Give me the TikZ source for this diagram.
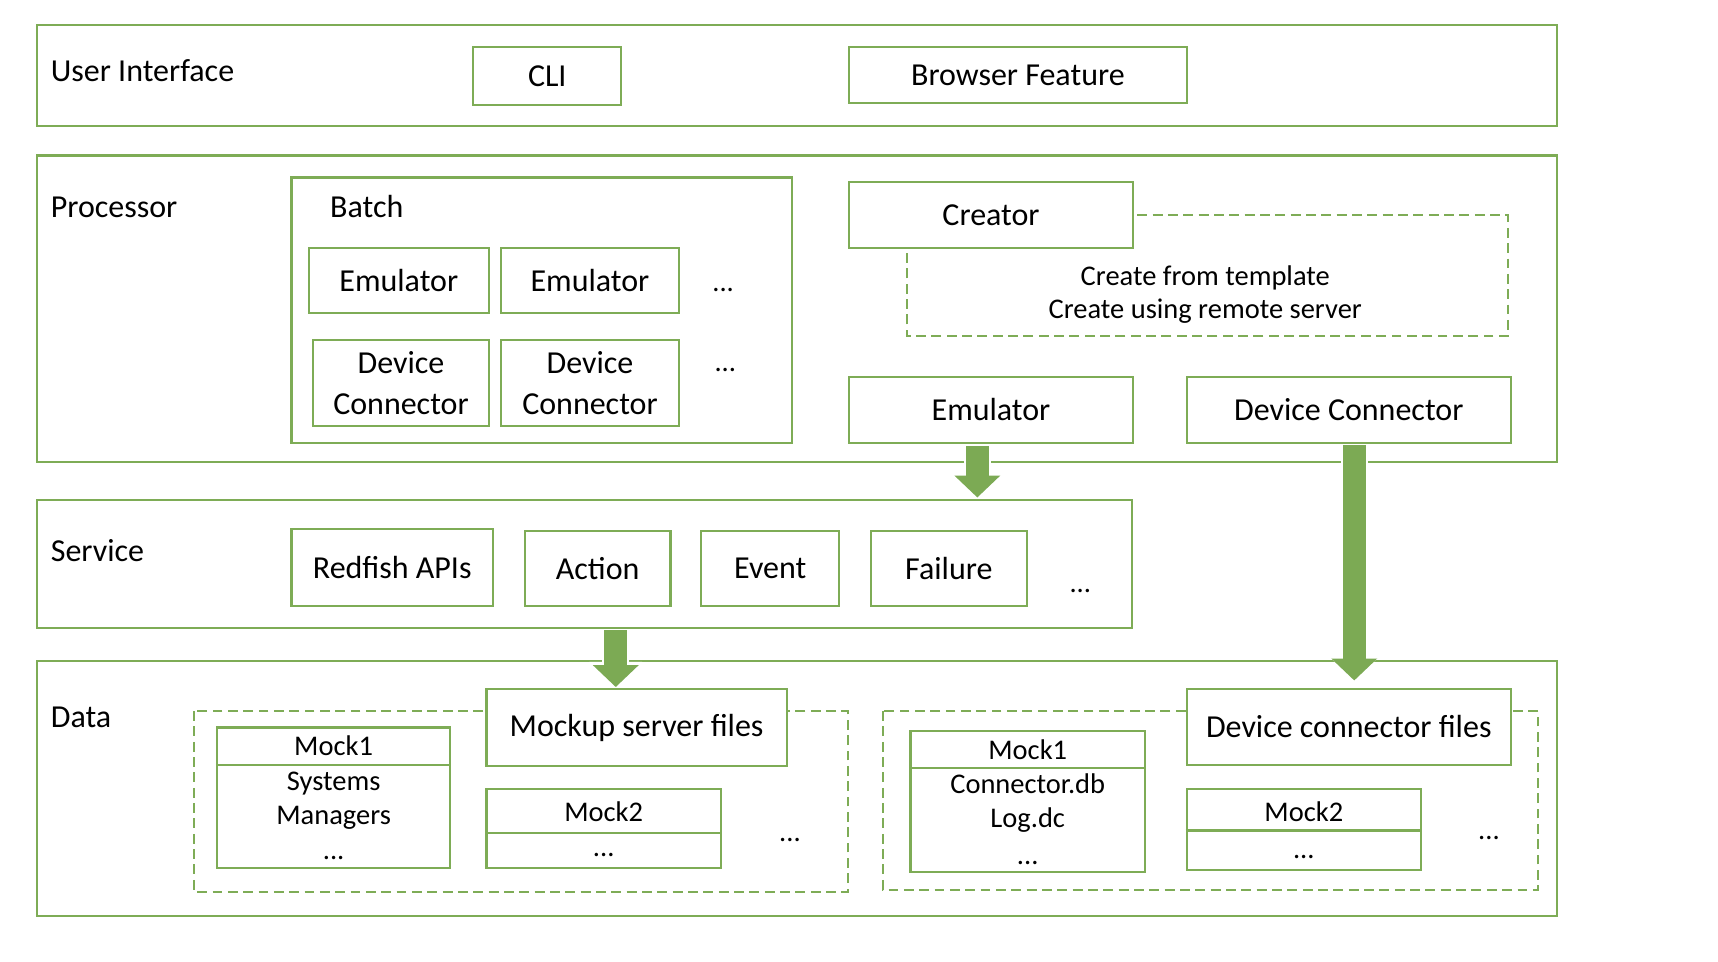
\documentclass[tikz,border=0pt]{standalone}
\usepackage{fontspec}
\setmainfont{Carlito}
\usetikzlibrary{arrows.meta}
\definecolor{gline}{RGB}{126,172,86}
\definecolor{garrow}{RGB}{124,170,84}
\begin{document}
\begin{tikzpicture}[x=0.5pt,y=-0.5pt,
  box/.style={draw=gline, line width=1pt, fill=white, inner sep=0pt, align=center,
    font=\fontsize{14.6}{18.5}\selectfont},
  outer/.style={draw=gline, line width=1pt, inner sep=0pt},
  dbox/.style={draw=gline, line width=1pt, dash pattern=on 4.5pt off 2.5pt},
  big/.style={inner sep=0pt, font=\fontsize{14.6}{18}\selectfont, text height=2ex, text depth=0.3ex},
  small/.style={inner sep=0pt, font=\fontsize{13}{16}\selectfont, text height=2ex, text depth=0.3ex},
  fat/.style={draw=garrow, line width=10.5pt,
    -{Triangle[width=21pt,length=10pt,line width=0pt]},
    preaction={draw=white, line width=12.5pt, -{Triangle[width=24pt,length=11.5pt,line width=0pt]}}}
]
\useasboundingbox (0,0) rectangle (1568,878);

% ---------- layers ----------
\node[outer, minimum width=693.5pt, minimum height=46pt] (ui) at (727.5,69) {};
\node[outer, minimum width=693.5pt, minimum height=140pt] (proc) at (727.5,282) {};
\node[outer, minimum width=499.5pt, minimum height=58.5pt] (svc) at (533.5,514.5) {};
\node[outer, minimum width=693.5pt, minimum height=116.5pt] (data) at (727.5,719.5) {};

\node[big, anchor=west] (uil) at (46,66) {User Interface};
\node[big, anchor=west] (procl) at (46,190) {Processor};
\node[big, anchor=west] (svcl) at (46,504) {Service};
\node[big, anchor=west] (datal) at (46,656) {Data};

% ---------- user interface ----------
\node[box, minimum width=67.5pt, minimum height=26.5pt] (cli) at (499.5,69.5) {CLI};
\node[box, minimum width=154pt, minimum height=25.5pt] (browser) at (929,68.5) {Browser Feature};

% ---------- processor ----------
\node[box, minimum width=228.5pt, minimum height=121pt] (batch) at (494.5,283) {};
\node[big, anchor=west] (batchl) at (301,190) {Batch};
\node[box, minimum width=82pt, minimum height=30pt] (be1) at (364,256) {Emulator};
\node[box, minimum width=81.5pt, minimum height=30pt] (be2) at (538.5,256) {Emulator};
\node[small] (bdots1) at (660,258) {...};
\node[box, minimum width=80pt, minimum height=39.5pt] (bd1) at (366,349.5) {Device\\Connector};
\node[box, minimum width=81.5pt, minimum height=39.5pt] (bd2) at (538.5,349.5) {Device\\Connector};
\node[small] (bdots2) at (662,331) {...};

\draw[dbox] (1038,196) -- (1376,196) -- (1376,307) -- (828,307) -- (828,229);
\node[box, minimum width=129.5pt, minimum height=30pt] (creator) at (904.5,196) {Creator};
\node[small] (ct1) at (1100,252) {Create from template};
\node[small] (ct2) at (1100,283) {Create using remote server};

\node[box, minimum width=129.5pt, minimum height=30pt] (emu) at (904.5,374) {Emulator};
\node[box, minimum width=148pt, minimum height=30pt] (dc) at (1231,374) {Device Connector};

% ---------- service ----------
\node[box, minimum width=92pt, minimum height=35pt] (redfish) at (358,518) {Redfish APIs};
\node[box, minimum width=66.5pt, minimum height=34pt] (action) at (545.5,519) {Action};
\node[box, minimum width=63pt, minimum height=34pt] (event) at (703,519) {Event};
\node[box, minimum width=71pt, minimum height=34pt] (failure) at (866,519) {Failure};
\node[small] (sdots) at (986,533) {...};

% ---------- data ----------
\draw[dbox] (177,649) rectangle (774,814);
\draw[dbox] (806,649) rectangle (1404,812);

\node[box, minimum width=137pt, minimum height=35pt] (msf) at (581,664) {Mockup server files};
\node[box, minimum width=106.5pt, minimum height=64pt] (m1l) at (304.5,728) {};
\draw[draw=gline, line width=1pt] (m1l.west |- 0,698) -- (m1l.east |- 0,698);
\node[small] (m1lt) at (304.5,681) {Mock1};
\node[small] (m1la) at (304.5,713) {Systems};
\node[small] (m1lb) at (304.5,744) {Managers};
\node[small] (m1lc) at (304.5,776) {...};
\node[box, minimum width=107pt, minimum height=36pt] (m2l) at (551,756) {};
\draw[draw=gline, line width=1pt] (m2l.west |- 0,760) -- (m2l.east |- 0,760);
\node[small] (m2lt) at (551,742) {Mock2};
\node[small] (m2la) at (551,774) {...};
\node[small] (ldots) at (721,760) {...};

\node[box, minimum width=148pt, minimum height=34.5pt] (dcf) at (1231,663.5) {Device connector files};
\node[box, minimum width=107pt, minimum height=64.5pt] (m1r) at (938,731.5) {};
\draw[draw=gline, line width=1pt] (m1r.west |- 0,701) -- (m1r.east |- 0,701);
\node[small] (m1rt) at (938,685) {Mock1};
\node[small] (m1ra) at (938,716) {Connector.db};
\node[small] (m1rb) at (938,747) {Log.dc};
\node[small] (m1rc) at (938,781) {...};
\node[box, minimum width=107pt, minimum height=37pt] (m2r) at (1190,757) {};
\draw[draw=gline, line width=1pt] (m2r.west |- 0,758) -- (m2r.east |- 0,758);
\node[small] (m2rt) at (1190,742) {Mock2};
\node[small] (m2ra) at (1190,775) {...};
\node[small] (rdots) at (1359,758) {...};

% ---------- arrows ----------
\coordinate (a1s) at (892,407);
\coordinate (a1e) at (892,454);
\coordinate (a2s) at (1236,406);
\coordinate (a2e) at (1236,621);
\coordinate (a3s) at (562,575);
\coordinate (a3e) at (562,627);
\draw[fat] (a1s) -- (a1e);
\draw[fat] (a2s) -- (a2e);
\draw[fat] (a3s) -- (a3e);
\end{tikzpicture}
\end{document}
